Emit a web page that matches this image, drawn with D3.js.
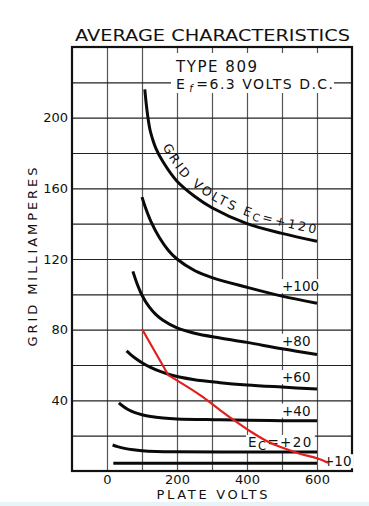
<!DOCTYPE html>
<html>
<head>
<meta charset="utf-8">
<script src="https://cdn.jsdelivr.net/npm/d3@7"></script>
<style>
  body { margin: 0; background: #fff; }
  svg { display: block; font-family: "DejaVu Sans", sans-serif; }
</style>
</head>
<body>
<div id="chart"></div>
<script>
// grid current curves, [plate volts, grid mA]
const ec120 = [[108,216],[112,208],[117,200],[123,193],[130,188],[140,182.5],[160,175],[200,164],[250,155.5],[300,149],[400,140],[500,134.5],[600,130]];
const ec100 = [[100,155],[110,149],[126,141],[150,132],[175,125],[200,120],[250,113.5],[300,109.5],[400,104],[500,99],[600,95]];
const ec80 = [[74,113],[86,106],[100,99.5],[120,93],[140,88.5],[160,85.3],[200,81],[250,78],[323,75.3],[400,72.8],[500,69.2],[600,66]];
const ec60 = [[56,68],[66,66.2],[80,64],[100,61.3],[123,58.8],[150,56.5],[180,54.5],[246,51.8],[323,50],[400,48.7],[500,47.5],[600,46.4]];
const ec40 = [[34,38.6],[45,36.8],[60,34.8],[80,33],[100,31.8],[125,30.8],[160,30],[200,29.5],[323,29],[400,28.7],[500,28.5],[600,28.5]];
const ec20 = [[16,14.7],[30,13.8],[50,12.8],[75,12],[100,11.5],[140,11.1],[199,10.9],[400,10.8],[600,10.8]];
const ec10 = [[18,4.4],[600,4.4]];
// red line drawn over the chart
const redLine = [[100,80.4],[175,54.3],[266,43],[323,34.5],[361,29],[409,22.5],[456,17],[504,13],[551,9.8],[600,7.2],[632,4.7]];

const curveLabels = ["+100", "+80", "+60", "+40", "+20", "+10"];
const plateTicks = [0, 200, 400, 600];
const gridTicks = [40, 80, 120, 160, 200];
const vGrid = [0, 100, 200, 300, 400, 500, 600];
const hGrid = [20, 40, 60, 80, 100, 120, 140, 160, 180, 200, 220];

const W = 369, H = 506;
const svg = d3.select("#chart").append("svg")
  .attr("width", W).attr("height", H);

svg.append("rect").attr("width", W).attr("height", H).attr("fill", "#fff");
svg.append("rect").attr("x", 0).attr("y", 502).attr("width", W).attr("height", 4).attr("fill", "#e8f4f7");

const x = d3.scaleLinear().domain([-100, 700]).range([72, 352]);
const y = d3.scaleLinear().domain([0, 240]).range([471, 47]);
const plotW = x(700) - x(-100), plotH = y(0) - y(240);

// grid lines
const gx = svg.append("g").attr("transform", `translate(0,${y(0)})`)
  .call(d3.axisBottom(x).tickValues(vGrid).tickSize(-plotH).tickFormat(""));
gx.select(".domain").remove();
gx.selectAll(".tick line").attr("stroke", "#555").attr("stroke-width", 1.2);

const gy = svg.append("g").attr("transform", `translate(${x(-100)},0)`)
  .call(d3.axisLeft(y).tickValues(hGrid).tickSize(-plotW).tickFormat(""));
gy.select(".domain").remove();
gy.selectAll(".tick line").attr("stroke", "#222").attr("stroke-width", 1.2);

// white patch under the type note
svg.append("rect").attr("x", 171).attr("y", 53).attr("width", 163).attr("height", 40).attr("fill", "#fff");

// frame
svg.append("rect")
  .attr("x", x(-100)).attr("y", y(240)).attr("width", plotW).attr("height", plotH)
  .attr("fill", "none").attr("stroke", "#111").attr("stroke-width", 2.2);

// tick labels
const ay = svg.append("g").attr("transform", `translate(${x(-100)},0)`)
  .call(d3.axisLeft(y).tickValues(gridTicks).tickSize(0).tickPadding(4));
ay.select(".domain").remove();
ay.selectAll("text").attr("font-size", 13).attr("font-family", "DejaVu Sans").attr("fill", "#111");

const ax = svg.append("g").attr("transform", `translate(0,${y(0)})`)
  .call(d3.axisBottom(x).tickValues(plateTicks).tickSize(0).tickPadding(4));
ax.select(".domain").remove();
ax.selectAll("text").attr("font-size", 13).attr("font-family", "DejaVu Sans").attr("fill", "#111");

// titles
svg.append("text").attr("x", 75).attr("y", 41)
  .attr("font-size", 16).attr("fill", "#111")
  .attr("textLength", 275).attr("lengthAdjust", "spacingAndGlyphs")
  .text("AVERAGE CHARACTERISTICS");

svg.append("text").attr("x", 212).attr("y", 499)
  .attr("text-anchor", "middle").attr("font-size", 13).attr("fill", "#111")
  .attr("textLength", 111).attr("lengthAdjust", "spacing")
  .text("PLATE VOLTS");

svg.append("text")
  .attr("transform", "translate(37,257) rotate(-90)")
  .attr("text-anchor", "middle").attr("font-size", 13).attr("fill", "#111")
  .attr("textLength", 179).attr("lengthAdjust", "spacing")
  .text("GRID MILLIAMPERES");

svg.append("text").attr("x", 176).attr("y", 72)
  .attr("font-size", 15).attr("fill", "#111")
  .attr("textLength", 81).attr("lengthAdjust", "spacing")
  .text("TYPE 809");

const ef = svg.append("text").attr("x", 176).attr("y", 89)
  .attr("font-size", 14).attr("fill", "#111")
  .attr("textLength", 157).attr("lengthAdjust", "spacing");
ef.append("tspan").text("E");
ef.append("tspan").attr("dx", 3).attr("dy", 3).attr("font-size", 10).attr("font-style", "italic").text("f");
ef.append("tspan").attr("dy", -3).attr("dx", 2).text("=6.3 VOLTS  D.C.");

// curves (centripetal Catmull-Rom copes with the near-vertical starts)
const line = d3.line().x(d => x(d[0])).y(d => y(d[1])).curve(d3.curveCatmullRom.alpha(0.5));
const series = [ec120, ec100, ec80, ec60, ec40, ec20, ec10];

// label backings sit under the curves, label text over them
const backG = svg.append("g");
const curveG = svg.append("g");
const lg = svg.append("g");

const labelSeries = [ec100, ec80, ec60, ec40, ec20];
const labelNodes = [];
labelSeries.forEach(function(s, i) {
  const at500 = s.find(d => d[0] === 500) || s[s.length - 1];
  const t = lg.append("text")
    .attr("font-size", 13.5).attr("fill", "#111");
  if (curveLabels[i] === "+20") {
    t.attr("x", x(500) - 34).attr("y", y(at500[1]) - 5).attr("letter-spacing", 1.4);
    t.append("tspan").text("E");
    t.append("tspan").attr("dy", 3).attr("font-size", 11.5).text("C");
    t.append("tspan").attr("dy", -3).text("=" + curveLabels[i]);
  } else {
    t.attr("x", x(500)).attr("y", y(at500[1]) - (i === 1 ? 3 : 5)).text(curveLabels[i]);
  }
  labelNodes.push(t);
});
const t10 = lg.append("text").attr("font-size", 13.5).attr("fill", "#111")
  .attr("x", x(600) + 6).attr("y", y(ec10[0][1]) + 3).text(curveLabels[5]);
labelNodes.push(t10);

labelNodes.forEach(function(t) {
  const b = t.node().getBBox();
  backG.append("rect")
    .attr("x", b.x - 2).attr("y", b.y + 1).attr("width", b.width + 4).attr("height", b.height - 2)
    .attr("fill", "#fff");
});

const curvePaths = curveG.selectAll("path")
  .data(series)
  .enter()
  .append("path")
  .attr("d", line)
  .attr("fill", "none")
  .attr("stroke", "#0a0a0a")
  .attr("stroke-width", 3);

// curved label along the +120 curve, offset along the normal
const mainNode = curvePaths.nodes()[0];
const mainLen = mainNode.getTotalLength();
const off = 7;
const offPts = [];
for (let l = 0; l <= mainLen; l += 2) {
  const p = mainNode.getPointAtLength(l);
  const p1 = mainNode.getPointAtLength(Math.max(0, l - 1.5));
  const p2 = mainNode.getPointAtLength(Math.min(mainLen, l + 1.5));
  const dx = p2.x - p1.x, dy = p2.y - p1.y;
  const len = Math.hypot(dx, dy) || 1;
  offPts.push([p.x + off * dy / len, p.y - off * dx / len]);
}
const lp = svg.append("path").attr("id", "ec120path")
  .attr("d", d3.line()(offPts)).attr("fill", "none");
const lpNode = lp.node();
const total = lpNode.getTotalLength();
let startLen = 0;
for (let l = 0; l < total; l += 0.5) {
  if (lpNode.getPointAtLength(l).y >= 146) { startLen = l; break; }
}
const ct = svg.append("text").attr("font-size", 12.5).attr("fill", "#111");
const tp = ct.append("textPath").attr("href", "#ec120path").attr("startOffset", startLen);
tp.append("tspan").text("GRID VOLTS E");
tp.append("tspan").attr("dy", 2).attr("font-size", 10.5).text("C");
tp.append("tspan").attr("dy", -2).text("=+120");
const natural = ct.node().getComputedTextLength();
const nChars = "GRID VOLTS EC=+120".length;
const avail = total - startLen - 3;
ct.attr("letter-spacing", Math.max(0, (avail - natural) / (nChars - 1)));

// red line
const redLin = d3.line().x(d => x(d[0])).y(d => y(d[1]));
svg.append("path").attr("d", redLin(redLine.slice(0, 2)))
  .attr("fill", "none").attr("stroke", "#e0201c").attr("stroke-width", 2.2);
svg.append("path").attr("d", line(redLine.slice(1)))
  .attr("fill", "none").attr("stroke", "#e0201c").attr("stroke-width", 2.2);
</script>
</body>
</html>
